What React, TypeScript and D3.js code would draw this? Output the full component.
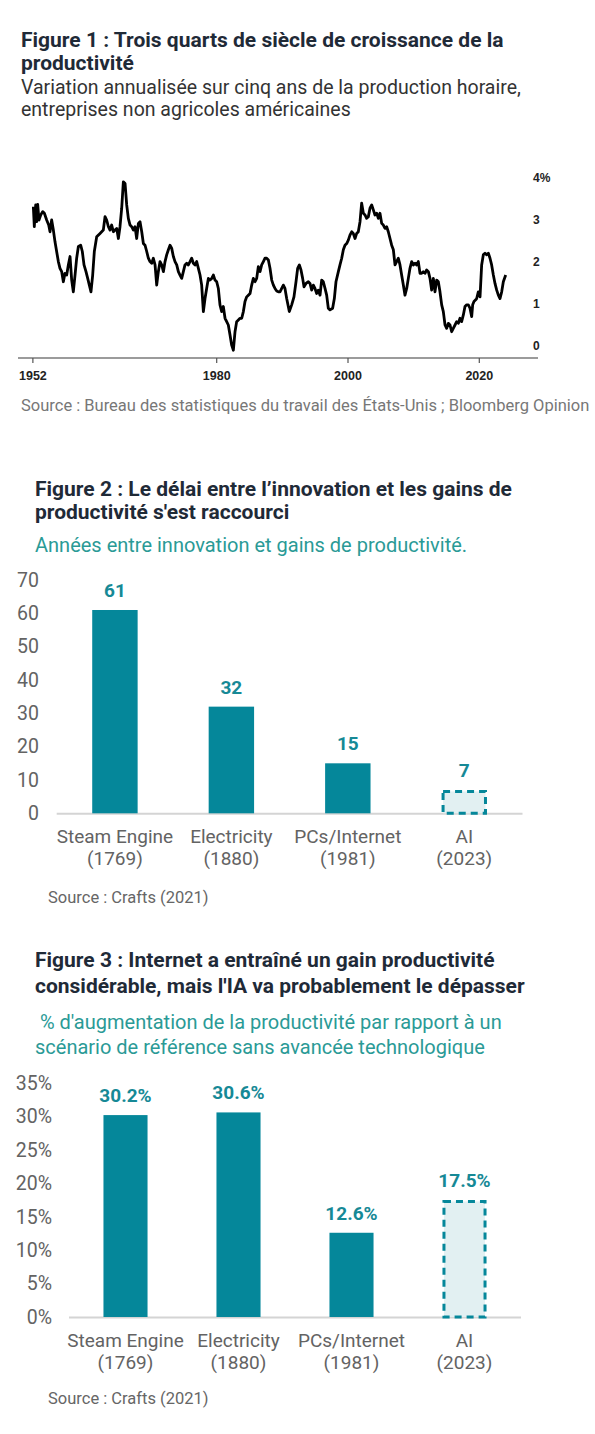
import React from "react";
import * as d3 from "d3";

const WIDTH = 595;
const HEIGHT = 1434;

// Figure 1 : 5-year annualized change in output per hour (reading of the line)
const lineYears = [
  1952.07, 1952.22, 1952.43, 1952.58, 1952.73, 1952.93, 1953.19, 1953.49, 1953.75, 1954.1,
  1954.41, 1954.61, 1954.86, 1955.12, 1955.37, 1955.62, 1955.88, 1956.13, 1956.39, 1956.64,
  1956.89, 1957.15, 1957.4, 1957.66, 1957.91, 1958.16, 1958.42, 1958.67, 1958.93, 1959.28,
  1959.53, 1959.79, 1960.09, 1960.35, 1960.6, 1960.85, 1961.11, 1961.36, 1961.72, 1962.23,
  1962.73, 1962.99, 1963.24, 1963.5, 1963.75, 1964.0, 1964.26, 1964.51, 1964.77, 1965.02,
  1965.27, 1965.53, 1965.78, 1966.04, 1966.29, 1966.54, 1966.8, 1967.05, 1967.31, 1967.56,
  1967.81, 1968.07, 1968.32, 1968.58, 1968.83, 1969.08, 1969.34, 1969.59, 1969.84, 1970.1,
  1970.35, 1970.61, 1970.86, 1971.11, 1971.37, 1971.62, 1971.88, 1972.13, 1972.38, 1972.64,
  1972.89, 1973.14, 1973.4, 1973.65, 1973.91, 1974.16, 1974.41, 1974.67, 1974.92, 1975.17,
  1975.43, 1975.68, 1975.94, 1976.19, 1976.44, 1976.7, 1976.95, 1977.21, 1977.46, 1977.71,
  1977.97, 1978.22, 1978.47, 1978.73, 1978.98, 1979.24, 1979.49, 1979.74, 1980.0, 1980.25,
  1980.5, 1980.76, 1981.01, 1981.27, 1981.52, 1981.77, 1982.03, 1982.28, 1982.54, 1982.79,
  1983.04, 1983.3, 1983.55, 1983.81, 1984.06, 1984.31, 1984.57, 1984.82, 1985.08, 1985.33,
  1985.58, 1985.84, 1986.09, 1986.34, 1986.6, 1986.85, 1987.11, 1987.36, 1987.61, 1987.87,
  1988.12, 1988.38, 1988.63, 1988.88, 1989.14, 1989.39, 1989.64, 1990.15, 1990.4, 1990.66,
  1991.06, 1991.42, 1991.77, 1992.08, 1992.33, 1992.59, 1992.84, 1993.09, 1993.3, 1993.6,
  1993.96, 1994.21, 1994.47, 1994.72, 1994.97, 1995.23, 1995.48, 1995.74, 1995.99, 1996.24,
  1996.5, 1996.75, 1997.0, 1997.26, 1997.66, 1997.92, 1998.17, 1998.53, 1998.78, 1999.04,
  1999.29, 1999.54, 1999.8, 2000.05, 2000.3, 2000.56, 2000.81, 2001.07, 2001.32, 2001.57,
  2001.83, 2002.08, 2002.34, 2002.59, 2002.84, 2003.1, 2003.35, 2003.61, 2003.86, 2004.11,
  2004.37, 2004.62, 2004.87, 2005.13, 2005.38, 2005.64, 2005.89, 2006.14, 2006.4, 2006.65,
  2006.91, 2007.16, 2007.41, 2007.67, 2007.92, 2008.17, 2008.43, 2008.68, 2008.94, 2009.19,
  2009.44, 2009.7, 2009.95, 2010.21, 2010.46, 2010.71, 2010.97, 2011.22, 2011.47, 2011.73,
  2011.98, 2012.24, 2012.49, 2012.74, 2013.0, 2013.25, 2013.51, 2013.76, 2014.01, 2014.27,
  2014.52, 2014.78, 2015.03, 2015.28, 2015.54, 2015.79, 2016.04, 2016.3, 2016.55, 2016.81,
  2017.06, 2017.31, 2017.57, 2017.82, 2018.08, 2018.33, 2018.58, 2018.84, 2018.99, 2019.19,
  2019.45, 2019.6, 2019.85, 2020.11, 2020.36, 2020.61, 2020.87, 2021.12, 2021.38, 2021.63,
  2021.88, 2022.14, 2022.39, 2022.65, 2022.9, 2023.15, 2023.41, 2023.66, 2024.02,
];
const lineValues = [
  3.32, 2.84, 3.36, 2.96, 3.37, 3.0, 3.12, 3.2, 3.16, 3.0,
  2.88, 2.72, 3.0, 2.76, 2.48, 2.25, 2.01, 1.85, 1.77, 1.53,
  1.73, 1.69, 1.93, 2.13, 1.57, 1.29, 1.69, 2.09, 2.37, 2.4,
  2.25, 1.93, 1.77, 1.61, 1.45, 1.29, 1.69, 2.25, 2.6, 2.68,
  2.76, 3.08, 3.0, 2.84, 2.76, 2.88, 2.72, 2.76, 2.8, 2.56,
  2.84, 3.28, 3.91, 3.87, 3.36, 3.04, 2.88, 2.84, 2.76, 2.84,
  2.56, 2.92, 2.96, 2.72, 2.44, 2.4, 2.25, 2.09, 2.01, 1.97,
  2.09, 1.93, 1.45, 1.77, 2.01, 1.93, 1.77, 2.01, 2.17, 2.29,
  2.4, 2.33, 2.13, 2.01, 1.93, 1.77, 1.69, 1.61, 1.77, 1.93,
  1.97, 1.93, 2.01, 2.09, 1.97, 1.93, 2.01, 1.85, 1.69, 1.45,
  0.82, 1.13, 1.37, 1.61, 1.57, 1.61, 1.69, 1.57, 1.53, 1.37,
  0.98, 0.82, 0.94, 0.66, 0.58, 0.5, 0.26, 0.02, -0.1, 0.34,
  0.58, 0.62, 0.66, 0.66, 0.82, 1.06, 1.17, 1.21, 1.25, 1.45,
  1.61, 1.53, 1.61, 1.89, 1.77, 1.93, 2.01, 2.09, 2.09, 2.05,
  1.85, 1.57, 1.45, 1.37, 1.31, 1.29, 1.29, 1.45, 1.37, 1.13,
  0.82, 0.98, 1.17, 1.53, 1.85, 1.93, 1.81, 1.61, 1.41, 1.49,
  1.53, 1.49, 1.33, 1.45, 1.37, 1.25, 1.33, 1.21, 1.57, 1.53,
  1.37, 1.21, 0.9, 0.86, 0.9, 1.13, 1.53, 1.77, 1.93, 2.09,
  2.29, 2.4, 2.44, 2.52, 2.64, 2.72, 2.68, 2.56, 2.68, 2.72,
  2.96, 3.4, 3.16, 3.12, 3.04, 3.08, 3.28, 3.36, 3.24, 3.12,
  3.16, 3.04, 3.16, 2.92, 2.88, 2.8, 2.84, 2.72, 2.56, 2.4,
  2.29, 1.93, 2.01, 2.09, 1.93, 1.69, 1.45, 1.21, 1.37, 1.61,
  1.85, 2.01, 1.93, 1.97, 1.93, 2.01, 1.73, 1.73, 1.77, 1.73,
  1.81, 1.77, 1.61, 1.33, 1.61, 1.29, 1.57, 1.53, 1.29, 0.98,
  0.82, 0.5, 0.42, 0.54, 0.5, 0.34, 0.42, 0.5, 0.58, 0.54,
  0.66, 0.58, 0.74, 0.94, 0.98, 0.98, 0.9, 0.7, 0.98, 1.06,
  1.1, 1.13, 1.29, 1.17, 1.93, 2.17, 2.21, 2.17, 2.21, 2.09,
  1.93, 1.69, 1.49, 1.33, 1.21, 1.13, 1.29, 1.53, 1.69,
];
const yearTicks = [1952, 1980, 2000, 2020];
const valueTicks = [0, 1, 2, 3, 4];

// Figures 2 and 3
const categories = ["Steam Engine", "Electricity", "PCs/Internet", "AI"];
const categoryYears = ["(1769)", "(1880)", "(1981)", "(2023)"];
const projected = [false, false, false, true];
const lagValues = [61, 32, 15, 7];
const lagTicks = [0, 10, 20, 30, 40, 50, 60, 70];
const gainValues = [30.2, 30.6, 12.6, 17.5];
const gainTicks = [0, 5, 10, 15, 20, 25, 30, 35];

const TITLE_COLOR = "#1f2a37";
const TEAL = "#05879a";
const TEAL_TEXT = "#168996";
const SUB_TEAL = "#2a9a96";
const GREY_TEXT = "#636363";
const SANS = "Roboto, 'Noto Sans', sans-serif";
const ARIAL = "'Liberation Sans', Arial, sans-serif";

const LineChart = () => {
  const x = d3.scaleLinear().domain([1980, 2000]).range([216.7, 348]);
  const y = d3.scaleLinear().domain([0, 4]).range([346, 178]);
  const points = lineYears.map((yr, i) => [yr, lineValues[i]] as [number, number]);
  const path = d3
    .line<[number, number]>()
    .x((d) => x(d[0]))
    .y((d) => y(d[1]))(points) || "";
  const axisY = 358;

  return (
    <g>
      <text x={21} y={47} fontFamily={SANS} fontWeight={700} fontSize={21} fill={TITLE_COLOR}>
        Figure 1 : Trois quarts de siècle de croissance de la
      </text>
      <text x={21} y={70} fontFamily={SANS} fontWeight={700} fontSize={21} fill={TITLE_COLOR}>
        productivité
      </text>
      <text x={21} y={94} fontFamily={SANS} fontSize={19.5} fill="#333">
        Variation annualisée sur cinq ans de la production horaire,
      </text>
      <text x={21} y={116} fontFamily={SANS} fontSize={19.5} fill="#333">
        entreprises non agricoles américaines
      </text>

      <path d={path} fill="none" stroke="#000" strokeWidth={2.8} strokeLinejoin="round" />

      <line x1={18} x2={538} y1={axisY} y2={axisY} stroke="#7a7a7a" strokeWidth={1.3} />
      {yearTicks.map((t) => (
        <g key={t} transform={`translate(${x(t)},0)`}>
          <line y1={axisY} y2={axisY + 5} stroke="#555" strokeWidth={1.2} />
          <text y={380} textAnchor="middle" fontFamily={ARIAL} fontWeight={700} fontSize={12.5} fill="#222">
            {t}
          </text>
        </g>
      ))}
      {valueTicks.map((t) => (
        <text key={t} x={533} y={y(t)} dy="0.35em" fontFamily={ARIAL} fontWeight={700} fontSize={12} fill="#222">
          {t === 4 ? "4%" : t}
        </text>
      ))}

      <text x={21} y={411} fontFamily={SANS} fontSize={16.5} fill="#777">
        Source : Bureau des statistiques du travail des États-Unis ; Bloomberg Opinion
      </text>
    </g>
  );
};

type BarChartProps = {
  values: number[];
  ticks: number[];
  xRange: [number, number];
  yRange: [number, number];
  tickX: number;
  format: (v: number) => string;
};

const BarChart = ({ values, ticks, xRange, yRange, tickX, format }: BarChartProps) => {
  const x = d3.scaleBand<string>().domain(categories).range(xRange).paddingInner(0.61).paddingOuter(0.305);
  const y = d3.scaleLinear().domain([0, d3.max(ticks) ?? 0]).range(yRange);
  const base = y(0);

  return (
    <g>
      {ticks.map((t) => (
        <text key={t} x={tickX} y={y(t)} dy="0.35em" textAnchor="end" fontFamily={SANS} fontSize={19.5} fill={GREY_TEXT}>
          {format(t)}
        </text>
      ))}
      <line x1={xRange[0]} x2={xRange[1]} y1={base + 0.5} y2={base + 0.5} stroke="#d4d4d4" strokeWidth={2} />
      {values.map((v, i) => {
        const cat = categories[i];
        const bx = x(cat) ?? 0;
        const bw = x.bandwidth();
        const top = y(v);
        const cx = bx + bw / 2;
        return (
          <g key={cat}>
            {projected[i] ? (
              <rect x={bx + 1.5} y={top + 1.5} width={bw - 3} height={base - top - 1.5} fill="#e2f0f2" stroke={TEAL} strokeWidth={3} strokeDasharray="7 5" />
            ) : (
              <rect x={bx} y={top} width={bw} height={base - top} fill={TEAL} />
            )}
            <text x={cx} y={top - 13} textAnchor="middle" fontFamily={SANS} fontWeight={700} fontSize={19} fill={TEAL_TEXT}>
              {format(v)}
            </text>
            <text x={cx} y={base + 30} textAnchor="middle" fontFamily={SANS} fontSize={19} fill={GREY_TEXT}>
              {cat}
            </text>
            <text x={cx} y={base + 52} textAnchor="middle" fontFamily={SANS} fontSize={19} fill={GREY_TEXT}>
              {categoryYears[i]}
            </text>
          </g>
        );
      })}
    </g>
  );
};

export default function App() {
  return (
    <svg width={WIDTH} height={HEIGHT} style={{ position: "absolute", left: 0, top: 0, background: "#fff" }}>
      <rect width={WIDTH} height={HEIGHT} fill="#fff" />
      <LineChart />

      {/* Figure 2 */}
      <text x={35} y={496} fontFamily={SANS} fontWeight={700} fontSize={21} fill={TITLE_COLOR}>
        Figure 2 : Le délai entre l’innovation et les gains de
      </text>
      <text x={35} y={519} fontFamily={SANS} fontWeight={700} fontSize={21} fill={TITLE_COLOR}>
        productivité s'est raccourci
      </text>
      <text x={35} y={552} fontFamily={SANS} fontSize={20} fill={SUB_TEAL}>
        Années entre innovation et gains de productivité.
      </text>
      <BarChart values={lagValues} ticks={lagTicks} xRange={[56.7, 522.5]} yRange={[813.3, 580]} tickX={39} format={(v) => `${v}`} />
      <text x={48} y={903} fontFamily={SANS} fontSize={16.5} fill="#666">
        Source : Crafts (2021)
      </text>

      {/* Figure 3 */}
      <text x={35} y={967} fontFamily={SANS} fontWeight={700} fontSize={21} fill={TITLE_COLOR}>
        Figure 3 : Internet a entraîné un gain productivité
      </text>
      <text x={35} y={993} fontFamily={SANS} fontWeight={700} fontSize={21} fill={TITLE_COLOR}>
        considérable, mais l'IA va probablement le dépasser
      </text>
      <text x={35} y={1029} fontFamily={SANS} fontSize={20} fill={SUB_TEAL} style={{ whiteSpace: "pre" }}>
        {" % d'augmentation de la productivité par rapport à un"}
      </text>
      <text x={35} y={1054} fontFamily={SANS} fontSize={20} fill={SUB_TEAL}>
        scénario de référence sans avancée technologique
      </text>
      <BarChart values={gainValues} ticks={gainTicks} xRange={[69, 521]} yRange={[1317, 1083]} tickX={52} format={(v) => `${v}%`} />
      <text x={48} y={1404} fontFamily={SANS} fontSize={16.5} fill="#666">
        Source : Crafts (2021)
      </text>
    </svg>
  );
}
